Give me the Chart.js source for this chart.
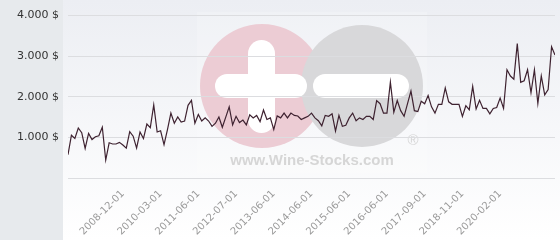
<!DOCTYPE html>
<html>
<head>
<meta charset="utf-8">
<script src="https://cdn.jsdelivr.net/npm/chart.js@4.4.0/dist/chart.umd.min.js"></script>
<style>
  html, body { margin: 0; padding: 0; background: #fff; }
  #wrap { width: 560px; height: 240px; position: relative; }
</style>
</head>
<body>
<div id="wrap"><canvas id="myChart-prix" width="560" height="240"></canvas></div>
<script>
// prix moyen (en $) - une valeur par relevé
const prix = [
  574, 1053, 977, 1233, 1116, 728, 1100, 947, 1016, 1040,
  1249, 442, 867, 837, 837, 877, 814, 737, 1140, 1030,
  737, 1133, 970, 1330, 1240, 1800, 1133, 1163, 821, 1193,
  1598, 1349, 1504, 1379, 1403, 1791, 1914, 1349, 1565, 1403,
  1481, 1403, 1272, 1349, 1504, 1249, 1500, 1751, 1309, 1519,
  1365, 1426, 1309, 1558, 1481, 1542, 1388, 1674, 1442, 1481,
  1193, 1528, 1481, 1598, 1481, 1598, 1542, 1528, 1442, 1481,
  1519, 1598, 1481, 1412, 1286, 1542, 1519, 1581, 1156, 1542,
  1272, 1300, 1481, 1598, 1412, 1481, 1442, 1519, 1519, 1442,
  1907, 1830, 1598, 1598, 2360, 1621, 1907, 1658, 1519, 1830,
  2140, 1658, 1635, 1891, 1829, 2030, 1752, 1598, 1814, 1814,
  2217, 1876, 1814, 1814, 1814, 1519, 1780, 1681, 2256, 1698,
  1914, 1714, 1714, 1581, 1714, 1737, 1969, 1714, 2667, 2512,
  2434, 3309, 2356, 2395, 2667, 2100, 2667, 1837, 2512, 2047,
  2179, 3233, 3030
];

// dates affichées sous l'axe et leur position dans la série
const dates = ['2008-12-01', '2010-03-01', '2011-06-01', '2012-07-01', '2013-06-01',
  '2014-06-01', '2015-06-01', '2016-06-01', '2017-09-01', '2018-11-01', '2020-02-01'];
const datesIdx = [16, 27, 38, 49, 60, 71, 82, 93, 104, 115, 126];

const yTicks = [0, 1000, 2000, 3000, 4000];

function formatPrix(v) {
  if (v === 0) return '';
  return String(v).replace(/\B(?=(\d{3})+(?!\d))/g, '.') + ' $';
}

// fond gris a gauche, degrade derriere le graphique, filigrane
const fondPlugin = {
  id: 'fond',
  beforeDraw(chart) {
    const c = chart.ctx;
    const h = chart.height;
    c.save();
    c.fillStyle = '#e7eaed';
    c.fillRect(0, 0, 63, h);
    const g = c.createLinearGradient(0, 0, 0, h);
    g.addColorStop(0, '#eceef3');
    g.addColorStop(1, '#ffffff');
    c.fillStyle = g;
    c.fillRect(63, 0, chart.width - 63, h);

    // filigrane wine-stocks
    c.fillStyle = 'rgba(255,255,255,0.2)';
    c.fillRect(197, 12, 230, 161);
    c.fillStyle = '#ecccd4';
    c.beginPath(); c.arc(262, 86, 62, 0, Math.PI * 2); c.fill();
    c.fillStyle = '#d8d8da';
    c.beginPath(); c.arc(362, 86, 61, 0, Math.PI * 2); c.fill();
    c.fillStyle = '#ffffff';
    function barre(x, y, w, hh) {
      const r = Math.min(w, hh) / 2;
      c.beginPath();
      c.roundRect(x, y, w, hh, r);
      c.fill();
    }
    barre(215, 74, 92, 24);
    barre(248, 40, 27, 93);
    barre(313, 74, 96, 24);
    c.fillStyle = '#d6d6d6';
    c.font = 'bold 15px "Liberation Sans", Arial, sans-serif';
    c.textAlign = 'center';
    c.textBaseline = 'alphabetic';
    c.fillText('www.Wine-Stocks.com', 312, 165);
    c.font = '15px "Liberation Sans", Arial, sans-serif';
    c.fillText('®', 413, 145);
    c.restore();
  }
};

const ctx = document.getElementById('myChart-prix').getContext('2d');
const myChart = new Chart(ctx, {
  type: 'line',
  data: {
    datasets: [{
      label: 'Prix',
      data: prix.map((v, i) => ({ x: i, y: v })),
      borderColor: '#3e2230',
      borderWidth: 1.2,
      pointRadius: 0,
      tension: 0,
      fill: false
    }]
  },
  options: {
    responsive: false,
    animation: false,
    devicePixelRatio: 1,
    layout: { padding: { top: 6, right: 5, left: 0, bottom: 0 } },
    plugins: {
      legend: { display: false },
      tooltip: { enabled: false }
    },
    scales: {
      x: {
        type: 'linear',
        min: 0,
        max: prix.length - 1,
        grid: { display: false, drawTicks: false },
        border: { display: false },
        afterBuildTicks(scale) {
          scale.ticks = datesIdx.map(v => ({ value: v }));
        },
        afterFit(scale) { scale.height = 62; },
        ticks: {
          autoSkip: false,
          minRotation: 45,
          maxRotation: 45,
          padding: 10,
          color: '#9a9a9a',
          font: { family: 'DejaVu Sans', size: 10 },
          callback(v) {
            const k = datesIdx.indexOf(v);
            return k >= 0 ? dates[k] : '';
          }
        }
      },
      y: {
        min: 0,
        max: 4000,
        afterBuildTicks(scale) {
          scale.ticks = yTicks.map(v => ({ value: v }));
        },
        afterFit(scale) { scale.width = 68; },
        grid: { color: '#dcdde0', drawTicks: false, lineWidth: 1 },
        border: { display: false },
        ticks: {
          padding: 9,
          color: '#333333',
          font: { family: 'DejaVu Sans', size: 11 },
          callback: formatPrix
        }
      }
    }
  },
  plugins: [fondPlugin]
});
</script>
</body>
</html>
